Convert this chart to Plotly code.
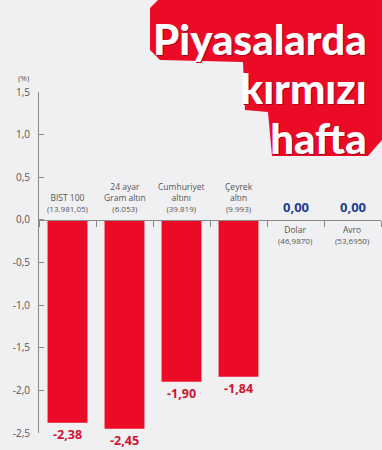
import plotly.graph_objects as go

# ---- data ----
keys = ["BIST 100", "24 ayar Gram altın", "Cumhuriyet altını", "Çeyrek altın", "Dolar", "Avro"]
names = ["BIST 100", "24 ayar<br>Gram altın", "Cumhuriyet<br>altını", "Çeyrek<br>altın", "Dolar", "Avro"]
prices = ["13.981,05", "6.053", "39.819", "9.993", "46,9870", "53,6950"]
changes = [-2.38, -2.45, -1.90, -1.84, 0.00, 0.00]
y_ticks = [1.5, 1.0, 0.5, 0.0, -0.5, -1.0, -1.5, -2.0, -2.5]
y_tick_text = ["1,5", "1,0", "0,5", "0,0", "-0,5", "-1,0", "-1,5", "-2,0", "-2,5"]
title_lines = ["Piyasalarda", "kırmızı", "hafta"]

# ---- layout constants ----
W, H = 382, 450
ML, MR, MT, MB = 39, 1, 92, 17
YMIN, YMAX = -2.5, 1.5
BG = "#f0f0f2"
RED = "#ec0b26"
VAL_RED = "#d3122f"
BLUE = "#1c3d8f"
GRAY = "#8a8a8a"
TXT = "#555555"
FONT = "Open Sans"

pw = W - ML - MR
ph = H - MT - MB


def px(x):
    return (x - ML) / pw


def py(y):
    return (H - MB - y) / ph


fig = go.Figure()
fig.add_trace(go.Bar(
    x=keys, y=changes, marker=dict(color=RED, line=dict(width=0)),
    hoverinfo="skip", showlegend=False,
))

ann = []
for k, n, p, v in zip(keys, names, prices, changes):
    label = f"{n}<br><span style='font-size:8px'>({p})</span>"
    vtxt = f"{v:.2f}".replace(".", ",")
    if v < 0:
        ann.append(dict(x=k, y=0, xref="x", yref="y", text=label, showarrow=False,
                        yanchor="bottom", yshift=4, font=dict(family=FONT, size=8.5, color=TXT)))
        ann.append(dict(x=k, y=v, xref="x", yref="y", text=f"<b>{vtxt}</b>", showarrow=False,
                        yanchor="top", yshift=-1, font=dict(family=FONT, size=12.5, color=VAL_RED)))
    else:
        ann.append(dict(x=k, y=0, xref="x", yref="y", text=f"<b>{vtxt}</b>", showarrow=False,
                        yanchor="bottom", yshift=2, font=dict(family=FONT, size=13, color=BLUE)))
        ann.append(dict(x=k, y=0, xref="x", yref="y", text=label, showarrow=False,
                        yanchor="top", yshift=-2, font=dict(family=FONT, size=8.5, color=TXT)))

ann.append(dict(x=px(32), y=py(85), xref="paper", yref="paper", text="(%)", showarrow=False,
                xanchor="right", yanchor="bottom", font=dict(family=FONT, size=8, color=TXT)))

# title block: one annotation, tight line spacing via small base font + larger spans
title_text = "<br>".join(f"<span style='font-size:42px'>{t}</span>" for t in title_lines)
ann.append(dict(x=px(369), y=py(88), xref="paper", yref="paper", text=title_text,
                showarrow=False, xanchor="right", yanchor="middle", align="right",
                font=dict(family="Lato", size=38, weight=900, color="white",
                          shadow="1px 1px 0px #b0001a")))

pts = [(158, 0), (382, 0), (382, 140), (368, 156), (272, 156), (268, 112), (245, 110),
       (243, 62), (160, 60), (150, 50), (150, 8)]
path = "M " + " L ".join(f"{px(a):.4f},{py(b):.4f}" for a, b in pts) + " Z"

fig.update_layout(
    width=W, height=H,
    margin=dict(l=ML, r=MR, t=MT, b=MB, pad=0),
    paper_bgcolor=BG, plot_bgcolor=BG,
    bargap=0.3,
    separators=",.",
    annotations=ann,
    shapes=[dict(type="path", path=path, xref="paper", yref="paper",
                 fillcolor=RED, line=dict(width=0), layer="below")],
    xaxis=dict(type="category", range=[-0.5, len(keys) - 0.5], showgrid=False, zeroline=False,
               showline=True, linecolor=GRAY, linewidth=1, ticks="outside", tickson="boundaries",
               ticklen=6, tickcolor=GRAY, showticklabels=False, anchor="free",
               position=(0 - YMIN) / (YMAX - YMIN), fixedrange=True),
    yaxis=dict(range=[YMIN, YMAX], tickvals=y_ticks, ticktext=y_tick_text, showgrid=False,
               zeroline=False, showline=True, linecolor=GRAY, linewidth=1, ticks="inside",
               ticklen=5, tickcolor=GRAY, ticklabelstandoff=6,
               tickfont=dict(family=FONT, size=10, color=TXT), fixedrange=True),
)

fig.write_html("out.html")
